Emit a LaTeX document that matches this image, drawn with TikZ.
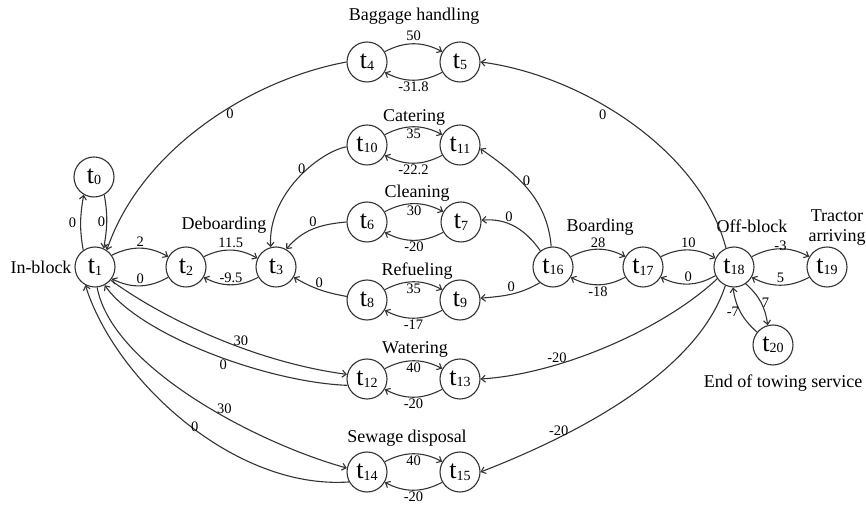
\documentclass[tikz,border=0pt]{standalone}
\usepackage{fontspec}
\setmainfont{Liberation Serif}
\usetikzlibrary{arrows.meta}
\definecolor{linec}{HTML}{333333}
\newcommand{\mytn}[1]{{\fontsize{26}{26}\selectfont t}\kern0.2pt\raisebox{-1.5pt}{\fontsize{14}{14}\selectfont #1}}
\begin{document}
\begin{tikzpicture}[x=1pt,y=1pt,
  st/.style={circle,draw=linec,line width=1.1pt,minimum size=40pt,inner sep=0pt},
  lab/.style={font=\fontsize{18}{20}\selectfont,inner sep=0pt},
  ed/.style={draw=linec,line width=1.1pt,-{Straight Barb[length=4pt,width=7pt]}},
  el/.style={font=\fontsize{14.5}{15}\selectfont,inner sep=1.5pt},
  tb/.style={bend left=28}]
\useasboundingbox (0,0) rectangle (866,508);
% states
\node[st] (t0) at (94,331) {\mytn{0}};
\node[st] (t1) at (95,241) {\mytn{1}};
\node[st] (t2) at (186,241) {\mytn{2}};
\node[st] (t3) at (276,241) {\mytn{3}};
\node[st] (t4) at (367,446) {\mytn{4}};
\node[st] (t5) at (460,446) {\mytn{5}};
\node[st] (t10) at (367,363) {\mytn{10}};
\node[st] (t11) at (460,363) {\mytn{11}};
\node[st] (t6) at (367,286) {\mytn{6}};
\node[st] (t7) at (461,286) {\mytn{7}};
\node[st] (t8) at (367,208) {\mytn{8}};
\node[st] (t9) at (460,208) {\mytn{9}};
\node[st] (t12) at (367,129) {\mytn{12}};
\node[st] (t13) at (460,129) {\mytn{13}};
\node[st] (t14) at (367,36) {\mytn{14}};
\node[st] (t15) at (460,36) {\mytn{15}};
\node[st] (t16) at (553,241) {\mytn{16}};
\node[st] (t17) at (643,241) {\mytn{17}};
\node[st] (t18) at (734,241) {\mytn{18}};
\node[st] (t19) at (827,241) {\mytn{19}};
\node[st] (t20) at (773,163) {\mytn{20}};
% text labels
\node[lab] (lbag) at (414,492) {Baggage handling};
\node[lab] (lcat) at (414,391) {Catering};
\node[lab] (lcle) at (417,315) {Cleaning};
\node[lab] (lref) at (417,237) {Refueling};
\node[lab] (lwat) at (415,159) {Watering};
\node[lab] (lsew) at (407,70) {Sewage disposal};
\node[lab] (ldeb) at (224,283) {Deboarding};
\node[lab] (linb) at (41,241) {In-block};
\node[lab] (lboa) at (600,281) {Boarding};
\node[lab] (loff) at (752,282) {Off-block};
\node[lab,align=center] (ltra) at (837,280) {Tractor\\arriving};
\node[lab] (lend) at (783,125) {End of towing service};
% t0 loop
\draw[ed] (t1.125) to[out=100,in=-100] node[el,left,inner sep=4pt]{0} (t0.-120);
\draw[ed] (t0.-60) to[out=-80,in=80] node[el,left,inner sep=1pt]{0} (t1.65);
% chain left
\draw[ed] (t1.35) to[tb] node[el,above]{2} (t2.150);
\draw[ed] (t2.-150) to[tb] node[el,above]{0} (t1.-35);
\draw[ed] (t2.30) to[tb] node[el,above]{11.5} (t3.155);
\draw[ed] (t3.-150) to[tb] node[el,above]{-9.5} (t2.-30);
% chain right
\draw[ed] (t16.30) to[tb] node[el,above]{28} (t17.150);
\draw[ed] (t17.-150) to[tb] node[el,below]{-18} (t16.-30);
\draw[ed] (t17.30) to[tb] node[el,above]{10} (t18.155);
\draw[ed] (t18.-155) to[tb] node[el,above]{0} (t17.-30);
\draw[ed] (t18.30) to[tb] node[el,above,inner sep=0pt,yshift=-2pt]{-3} (t19.150);
\draw[ed] (t19.-150) to[tb] node[el,above]{5} (t18.-30);
\draw[ed] (t18.-55) to[bend left=20] node[el,right,inner sep=0.5pt]{7} (t20.105);
\draw[ed] (t20.141) to[bend left=20] node[el,left,inner sep=1pt]{-7} (t18.-93);
% activity pairs
\draw[ed] (t4.30) to[tb] node[el,above,inner sep=3pt]{50} (t5.150);
\draw[ed] (t5.-150) to[tb] node[el,below]{-31.8} (t4.-30);
\draw[ed] (t10.30) to[tb] node[el,below]{35} (t11.150);
\draw[ed] (t11.-150) to[tb] node[el,below]{-22.2} (t10.-30);
\draw[ed] (t6.30) to[tb] node[el,below]{30} (t7.150);
\draw[ed] (t7.-150) to[tb] node[el,below]{-20} (t6.-30);
\draw[ed] (t8.30) to[tb] node[el,below]{35} (t9.150);
\draw[ed] (t9.-150) to[tb] node[el,below]{-17} (t8.-30);
\draw[ed] (t12.30) to[tb] node[el,below]{40} (t13.150);
\draw[ed] (t13.-150) to[tb] node[el,below]{-20} (t12.-30);
\draw[ed] (t14.30) to[tb] node[el,below]{40} (t15.150);
\draw[ed] (t15.-150) to[tb] node[el,below]{-20} (t14.-30);
% long connectors
\draw[ed] (t4.west) .. controls +(-97,-18) and +(34,100) .. (t1.55) node[el,pos=0.4,below]{0};
\draw[ed] (t18.113) .. controls +(-26,99) and +(100,-13) .. (t5.east) node[el,pos=0.58,below left]{0};
\draw[ed] (t10.185) .. controls +(-27,-5) and +(-3,53) .. (t3.105) node[el,pos=0.4,left]{0};
\draw[ed] (t6.180) to[out=185,in=50] node[el,above]{0} (t3.60);
\draw[ed] (t8.170) to[out=170,in=-30] node[el,above]{0} (t3.-30);
\draw[ed] (t16.95) to[out=95,in=-35] node[el,pos=0.6,right]{0} (t11.-10);
\draw[ed] (t16.128) to[out=125,in=5] node[el,pos=0.6,above]{0} (t7.5);
\draw[ed] (t16.-130) to[out=-150,in=5] node[el,above]{0} (t9.5);
\draw[ed] (t18.-145) .. controls +(-53,-50) and +(80,5) .. (t13.east) node[el,pos=0.7,above]{-20};
\draw[ed] (t18.-115) .. controls +(-29,-89) and +(90,35) .. (t15.east) node[el,pos=0.73,above]{-20};
\draw[ed] (t1.-40) .. controls +(55,-40) and +(-90,12) .. (t12.167) node[el,pos=0.6,above]{30};
\draw[ed] (t12.-162) .. controls +(-80,3) and +(35,-50) .. (t1.-62) node[el,pos=0.45,below]{0};
\draw[ed] (t1.-84) .. controls +(15,-80) and +(-90,25) .. (t14.169) node[el,pos=0.6,above,inner sep=3pt]{30};
\draw[ed] (t14.-151) .. controls +(-115,-8) and +(30,-95) .. (t1.-118) node[el,pos=0.45,above left,inner sep=1pt]{0};
\end{tikzpicture}
\end{document}
